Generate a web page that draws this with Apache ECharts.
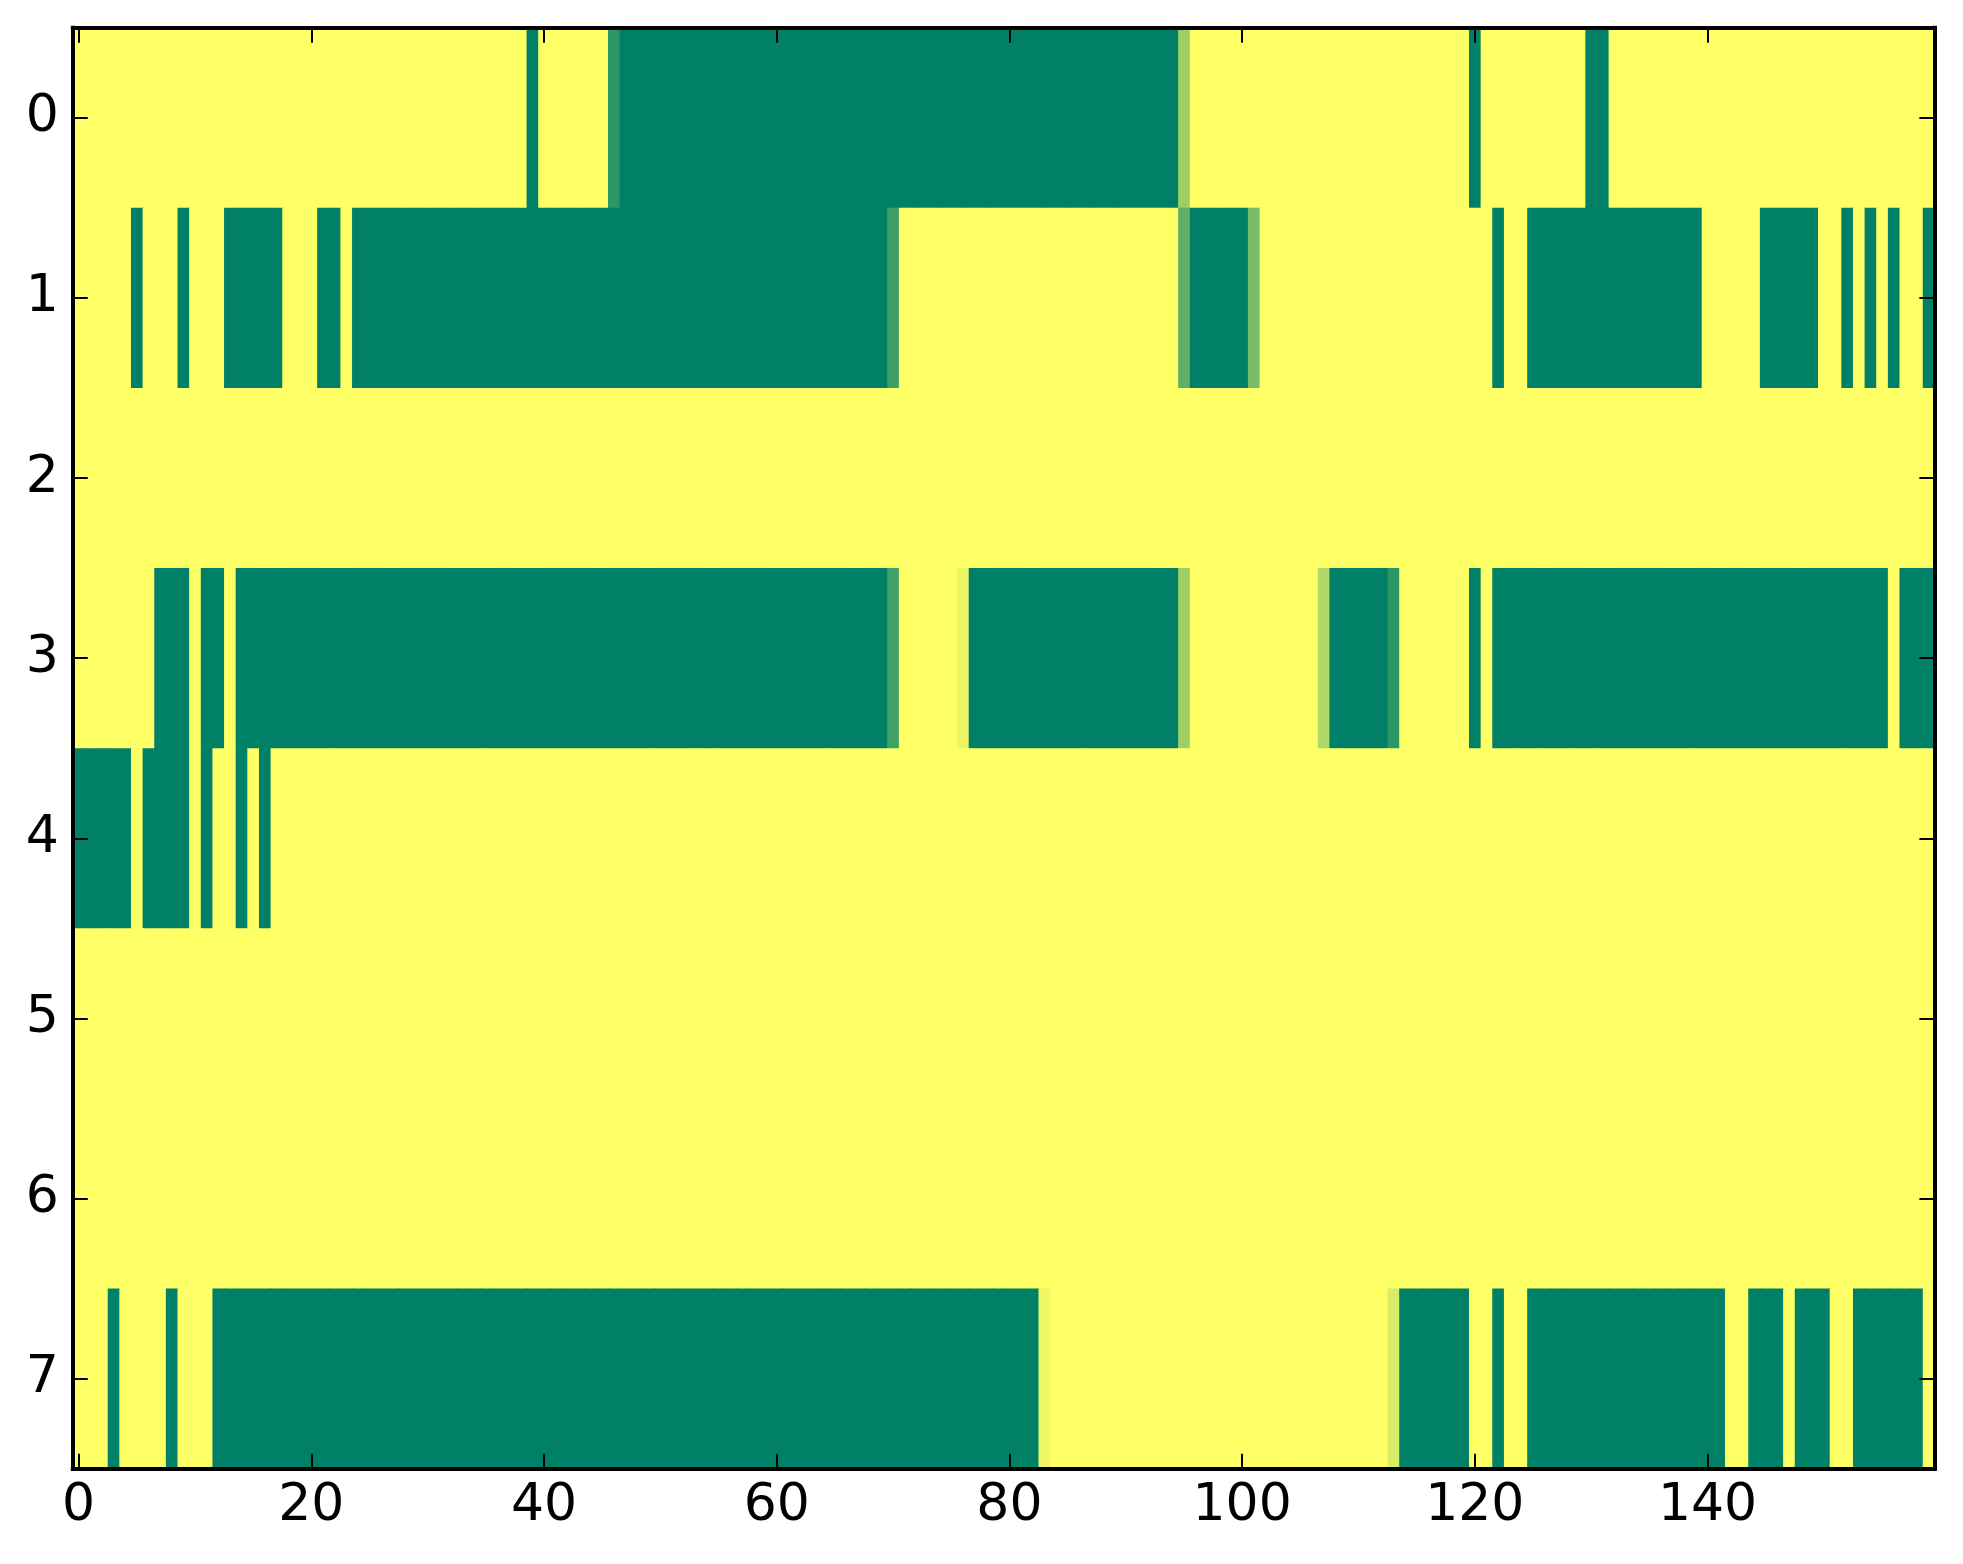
<!DOCTYPE html>
<html>
<head>
<meta charset="utf-8">
<script src="https://cdn.jsdelivr.net/npm/echarts@6/dist/echarts.min.js"></script>
<style>
html,body{margin:0;padding:0;background:#fff;}
#chart{width:1963px;height:1564px;}
</style>
</head>
<body>
<div id="chart"></div>
<script>
// Column categories 0..159 and row categories 0..7
var xCategories = [];
for (var i = 0; i < 160; i++) xCategories.push(String(i));
var yCategories = ['0','1','2','3','4','5','6','7'];
var xTickStep = 20;

// Cell values (0 = green, 1 = yellow), read per row
var row0 = [
1,1,1,1,1,1,1,1,1,1, 1,1,1,1,1,1,1,1,1,1, 1,1,1,1,1,1,1,1,1,1, 1,1,1,1,1,1,1,1,1,0,
1,1,1,1,1,1,0.17,0,0,0, 0,0,0,0,0,0,0,0,0,0, 0,0,0,0,0,0,0,0,0,0, 0,0,0,0,0,0,0,0,0,0,
0,0,0,0,0,0,0,0,0,0, 0,0,0,0,0,0.62,1,1,1,1, 1,1,1,1,1,1,1,1,1,1, 1,1,1,1,1,1,1,1,1,1,
0,1,1,1,1,1,1,1,1,1, 0,0,1,1,1,1,1,1,1,1, 1,1,1,1,1,1,1,1,1,1, 1,1,1,1,1,1,1,1,1,1
];
var row1 = [
1,1,1,1,1,0,1,1,1,0, 1,1,1,0,0,0,0,0,1,1, 1,0,0,1,0,0,0,0,0,0, 0,0,0,0,0,0,0,0,0,0,
0,0,0,0,0,0,0,0,0,0, 0,0,0,0,0,0,0,0,0,0, 0,0,0,0,0,0,0,0,0,0, 0.24,1,1,1,1,1,1,1,1,1,
1,1,1,1,1,1,1,1,1,1, 1,1,1,1,1,0.38,0,0,0,0, 0,0.47,1,1,1,1,1,1,1,1, 1,1,1,1,1,1,1,1,1,1,
1,1,0,1,1,0,0,0,0,0, 0,0,0,0,0,0,0,0,0,0, 1,1,1,1,1,0,0,0,0,0, 1,1,0,1,0,1,0,1,1,0
];
var row2 = [
1,1,1,1,1,1,1,1,1,1, 1,1,1,1,1,1,1,1,1,1, 1,1,1,1,1,1,1,1,1,1, 1,1,1,1,1,1,1,1,1,1,
1,1,1,1,1,1,1,1,1,1, 1,1,1,1,1,1,1,1,1,1, 1,1,1,1,1,1,1,1,1,1, 1,1,1,1,1,1,1,1,1,1,
1,1,1,1,1,1,1,1,1,1, 1,1,1,1,1,1,1,1,1,1, 1,1,1,1,1,1,1,1,1,1, 1,1,1,1,1,1,1,1,1,1,
1,1,1,1,1,1,1,1,1,1, 1,1,1,1,1,1,1,1,1,1, 1,1,1,1,1,1,1,1,1,1, 1,1,1,1,1,1,1,1,1,1
];
var row3 = [
1,1,1,1,1,1,1,0,0,0, 1,0,0,1,0,0,0,0,0,0, 0,0,0,0,0,0,0,0,0,0, 0,0,0,0,0,0,0,0,0,0,
0,0,0,0,0,0,0,0,0,0, 0,0,0,0,0,0,0,0,0,0, 0,0,0,0,0,0,0,0,0,0, 0.25,1,1,1,1,1,0.92,0,0,0,
0,0,0,0,0,0,0,0,0,0, 0,0,0,0,0,0.62,1,1,1,1, 1,1,1,1,1,1,1,0.69,0,0, 0,0,0,0.17,1,1,1,1,1,1,
0,1,0,0,0,0,0,0,0,0, 0,0,0,0,0,0,0,0,0,0, 0,0,0,0,0,0,0,0,0,0, 0,0,0,0,0,0,1,0,0,0
];
var row4 = [
0,0,0,0,0,1,0,0,0,0, 1,0,1,1,0,1,0,1,1,1, 1,1,1,1,1,1,1,1,1,1, 1,1,1,1,1,1,1,1,1,1,
1,1,1,1,1,1,1,1,1,1, 1,1,1,1,1,1,1,1,1,1, 1,1,1,1,1,1,1,1,1,1, 1,1,1,1,1,1,1,1,1,1,
1,1,1,1,1,1,1,1,1,1, 1,1,1,1,1,1,1,1,1,1, 1,1,1,1,1,1,1,1,1,1, 1,1,1,1,1,1,1,1,1,1,
1,1,1,1,1,1,1,1,1,1, 1,1,1,1,1,1,1,1,1,1, 1,1,1,1,1,1,1,1,1,1, 1,1,1,1,1,1,1,1,1,1
];
var row5 = [
1,1,1,1,1,1,1,1,1,1, 1,1,1,1,1,1,1,1,1,1, 1,1,1,1,1,1,1,1,1,1, 1,1,1,1,1,1,1,1,1,1,
1,1,1,1,1,1,1,1,1,1, 1,1,1,1,1,1,1,1,1,1, 1,1,1,1,1,1,1,1,1,1, 1,1,1,1,1,1,1,1,1,1,
1,1,1,1,1,1,1,1,1,1, 1,1,1,1,1,1,1,1,1,1, 1,1,1,1,1,1,1,1,1,1, 1,1,1,1,1,1,1,1,1,1,
1,1,1,1,1,1,1,1,1,1, 1,1,1,1,1,1,1,1,1,1, 1,1,1,1,1,1,1,1,1,1, 1,1,1,1,1,1,1,1,1,1
];
var row6 = [
1,1,1,1,1,1,1,1,1,1, 1,1,1,1,1,1,1,1,1,1, 1,1,1,1,1,1,1,1,1,1, 1,1,1,1,1,1,1,1,1,1,
1,1,1,1,1,1,1,1,1,1, 1,1,1,1,1,1,1,1,1,1, 1,1,1,1,1,1,1,1,1,1, 1,1,1,1,1,1,1,1,1,1,
1,1,1,1,1,1,1,1,1,1, 1,1,1,1,1,1,1,1,1,1, 1,1,1,1,1,1,1,1,1,1, 1,1,1,1,1,1,1,1,1,1,
1,1,1,1,1,1,1,1,1,1, 1,1,1,1,1,1,1,1,1,1, 1,1,1,1,1,1,1,1,1,1, 1,1,1,1,1,1,1,1,1,1
];
var row7 = [
1,1,1,0,1,1,1,1,0,1, 1,1,0,0,0,0,0,0,0,0, 0,0,0,0,0,0,0,0,0,0, 0,0,0,0,0,0,0,0,0,0,
0,0,0,0,0,0,0,0,0,0, 0,0,0,0,0,0,0,0,0,0, 0,0,0,0,0,0,0,0,0,0, 0,0,0,0,0,0,0,0,0,0,
0,0,0,0.93,1,1,1,1,1,1, 1,1,1,1,1,1,1,1,1,1, 1,1,1,1,1,1,1,1,1,1, 1,1,1,0.85,0,0,0,0,0,0,
1,1,0,1,1,0,0,0,0,0, 0,0,0,0,0,0,0,0,0,0, 0,0,1,1,0,0,0,1,0,0, 0,1,1,0,0,0,0,0,0,1
];
var rows = [row0, row1, row2, row3, row4, row5, row6, row7];

var cellData = [];
rows.forEach(function (r, y) {
  r.forEach(function (v, x) { cellData.push([x, y, v]); });
});

var FONT = 'DejaVu Sans';
function xTickFn(idx) { return idx % xTickStep === 0; }

var tickStyle = { show: true, inside: true, length: 15, lineStyle: { color: '#000', width: 2 } };
var lineStyle = { show: true, onZero: false, lineStyle: { color: '#000', width: 4, cap: 'square' } };

function renderCell(params, api) {
  var p = api.coord([api.value(0), api.value(1)]);
  var s = api.size([1, 1]);
  return {
    type: 'rect',
    shape: { x: p[0] - s[0] / 2, y: p[1] - s[1] / 2, width: s[0] + 1, height: s[1] + 1 },
    style: { fill: api.visual('color') }
  };
}

var chart = echarts.init(document.getElementById('chart'), null, { renderer: 'canvas' });
chart.setOption({
  animation: false,
  backgroundColor: '#ffffff',
  grid: { left: 72.8, right: 28.6, top: 27.7, bottom: 95.3, containLabel: false },
  xAxis: [
    {
      type: 'category', data: xCategories, position: 'bottom', boundaryGap: true, z: 10,
      axisLine: lineStyle,
      axisTick: Object.assign({}, tickStyle, { alignWithLabel: true, interval: xTickFn }),
      axisLabel: { interval: xTickFn, color: '#000', fontFamily: FONT, fontSize: 52, margin: 12 },
      splitLine: { show: false }
    },
    {
      type: 'category', data: xCategories, position: 'top', boundaryGap: true, z: 10,
      axisLine: lineStyle,
      axisTick: Object.assign({}, tickStyle, { alignWithLabel: true, interval: xTickFn }),
      axisLabel: { show: false },
      splitLine: { show: false }
    }
  ],
  yAxis: [
    {
      type: 'category', data: yCategories, inverse: true, position: 'left', boundaryGap: true, z: 10,
      axisLine: lineStyle,
      axisTick: Object.assign({}, tickStyle, { alignWithLabel: true, interval: 0 }),
      axisLabel: { interval: 0, color: '#000', fontFamily: FONT, fontSize: 52, margin: 14 },
      splitLine: { show: false }
    },
    {
      type: 'category', data: yCategories, inverse: true, position: 'right', boundaryGap: true, z: 10,
      axisLine: lineStyle,
      axisTick: Object.assign({}, tickStyle, { alignWithLabel: true, interval: 0 }),
      axisLabel: { show: false },
      splitLine: { show: false }
    }
  ],
  visualMap: {
    type: 'continuous', show: false, min: 0, max: 1, dimension: 2, seriesIndex: 0,
    inRange: { color: ['#008066', '#ffff66'] }
  },
  series: [{
    type: 'custom',
    xAxisIndex: 0, yAxisIndex: 0,
    renderItem: renderCell,
    encode: { x: 0, y: 1 },
    data: cellData,
    clip: true,
    z: 2
  }]
});
</script>
</body>
</html>
